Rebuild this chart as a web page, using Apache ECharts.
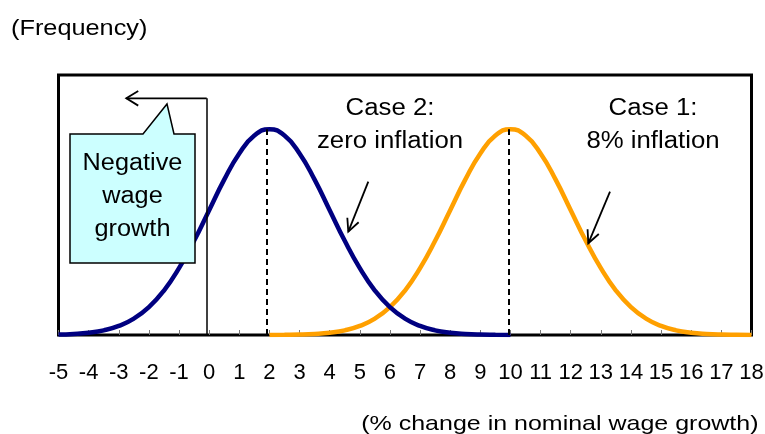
<!DOCTYPE html>
<html>
<head>
<meta charset="utf-8">
<script src="https://cdn.jsdelivr.net/npm/echarts@6/dist/echarts.min.js"></script>
<style>
html,body{margin:0;padding:0;background:#fff;}
#c{width:765px;height:434px;}
</style>
</head>
<body>
<div id="c"></div>
<script>
// ---- data ----
const xMin = -5, xMax = 18;
const tickLabels = ['-5','-4','-3','-2','-1','0','1','2','3','4','5','6','7','8','9','10','11','12','13','14','15','16','17','18'];

// Case 2: zero inflation (navy)
const case2X = [-5,-4.5,-4,-3.5,-3,-2.5,-2,-1.5,-1,-0.5,0,0.5,1,1.5,2,2.5,3,3.5,4,4.5,5,5.5,6,6.5,7,7.5,8,8.5,9,9.5,10];
const case2Y = [0.0004,0.0010,0.0022,0.0045,0.0088,0.0159,0.0270,0.0431,0.0648,0.0913,0.1210,0.1506,0.1760,0.1933,0.1995,0.1933,0.1760,0.1506,0.1210,0.0913,0.0648,0.0431,0.0270,0.0159,0.0088,0.0045,0.0022,0.0010,0.0004,0.0002,0.0001];

// Case 1: 8% inflation (orange)
const case1X = [2,2.5,3,3.5,4,4.5,5,5.5,6,6.5,7,7.5,8,8.5,9,9.5,10,10.5,11,11.5,12,12.5,13,13.5,14,14.5,15,15.5,16,16.5,17,17.5,18];
const case1Y = [0.0001,0.0002,0.0004,0.0010,0.0022,0.0045,0.0088,0.0159,0.0270,0.0431,0.0648,0.0913,0.1210,0.1506,0.1760,0.1933,0.1995,0.1933,0.1760,0.1506,0.1210,0.0913,0.0648,0.0431,0.0270,0.0159,0.0088,0.0045,0.0022,0.0010,0.0004,0.0002,0.0001];

// reference lines
const peakLines = [1.9, 9.95];
const peakValue = 0.1995;
const zeroLineX = -0.08;
const zeroLineTop = 0.2294;
const yMaxVal = 0.252;

const FONT = "'Liberation Sans', Arial, sans-serif";

const chart = echarts.init(document.getElementById('c'), null, {renderer: 'canvas'});

const option = {
  animation: false,
  backgroundColor: '#fff',
  grid: {
    left: 58.5, right: 13.5, top: 75, bottom: 99,
    show: true, borderColor: '#000', borderWidth: 3, backgroundColor: 'transparent',
    outerBoundsMode: 'none', containLabel: false
  },
  xAxis: {
    type: 'value', min: xMin, max: xMax, interval: 1,
    axisLine: {show: false},
    axisTick: {show: true, inside: true, length: 5, lineStyle: {color: '#777', width: 1}},
    splitLine: {show: false},
    axisLabel: {
      show: true, margin: 27, color: '#000', fontSize: 22, fontFamily: FONT,
      showMinLabel: true, showMaxLabel: true,
      formatter: v => tickLabels[Math.round(v - xMin)]
    }
  },
  yAxis: {
    type: 'value', min: 0, max: yMaxVal,
    axisLine: {show: false}, axisTick: {show: false},
    axisLabel: {show: false}, splitLine: {show: false}
  },
  series: [
    {
      name: 'Case 2: zero inflation', type: 'line', smooth: true, showSymbol: false,
      lineStyle: {color: '#000080', width: 4.5}, z: 3,
      data: case2X.map((x, i) => [x, case2Y[i]]),
      markLine: {
        silent: true, symbol: ['none', 'none'], label: {show: false},
        lineStyle: {color: '#000', width: 1.5, type: 'solid'},
        data: [[{coord: [zeroLineX, 0]}, {coord: [zeroLineX, zeroLineTop]}]]
      }
    },
    {
      name: 'Case 1: 8% inflation', type: 'line', smooth: true, showSymbol: false,
      lineStyle: {color: '#FFA000', width: 4.5}, z: 2,
      data: case1X.map((x, i) => [x, case1Y[i]]),
      markLine: {
        silent: true, symbol: ['none', 'none'], label: {show: false},
        lineStyle: {color: '#000', width: 2, type: [6, 4]},
        data: peakLines.map(px => [{coord: [px, 0]}, {coord: [px, peakValue]}])
      }
    }
  ]
};
chart.setOption(option);

// ---- annotations ----
function arrow(x1, y1, x2, y2, len, ang) {
  const a = Math.atan2(y1 - y2, x1 - x2);
  const p1 = [x2 + len * Math.cos(a + ang), y2 + len * Math.sin(a + ang)];
  const p2 = [x2 + len * Math.cos(a - ang), y2 + len * Math.sin(a - ang)];
  return [
    {type: 'line', z: 50, shape: {x1: x1, y1: y1, x2: x2, y2: y2}, style: {stroke: '#000', lineWidth: 1.8}},
    {type: 'polyline', z: 50, shape: {points: [p1, [x2, y2], p2]}, style: {stroke: '#000', lineWidth: 1.8, fill: null}}
  ];
}
function txt(x, y, text, size, sx, align) {
  return {
    type: 'text', x: x, y: y, scaleX: sx, z: 60,
    style: {text: text, fill: '#000', font: size + 'px ' + FONT, align: align || 'center', verticalAlign: 'middle'}
  };
}

const zeroTop = chart.convertToPixel({gridIndex: 0}, [zeroLineX, zeroLineTop]);
const arrowEnd = chart.convertToPixel({gridIndex: 0}, [-2.75, zeroLineTop]);

const graphics = [];
graphics.push(...arrow(zeroTop[0], zeroTop[1], arrowEnd[0], arrowEnd[1], 14, 0.55));
graphics.push(...arrow(368.3, 181.7, 348.3, 231.7, 14, 0.45));
graphics.push(...arrow(610, 191.7, 588.3, 243.3, 14, 0.45));
// callout box
graphics.push({
  type: 'polygon', z: 40,
  shape: {points: [[70, 134], [143, 134], [167, 104], [174, 134], [195, 134], [195, 263], [70, 263]]},
  style: {fill: '#CCFFFF', stroke: '#000', lineWidth: 1.5}
});
graphics.push(txt(132.5, 163.5, 'Negative', 23, 1.1));
graphics.push(txt(132.5, 197, 'wage', 23, 1.1));
graphics.push(txt(132.5, 230, 'growth', 23, 1.1));
graphics.push(txt(390, 108.3, 'Case 2:', 23, 1.12));
graphics.push(txt(390, 141.7, 'zero inflation', 23, 1.12));
graphics.push(txt(653, 108.3, 'Case 1:', 23, 1.12));
graphics.push(txt(653, 141.7, '8% inflation', 23, 1.12));
graphics.push(txt(11, 29, '(Frequency)', 22, 1.15, 'left'));
graphics.push(txt(758.5, 424, '(% change in nominal wage growth)', 21, 1.19, 'right'));

chart.setOption({graphic: {elements: graphics}});
</script>
</body>
</html>
